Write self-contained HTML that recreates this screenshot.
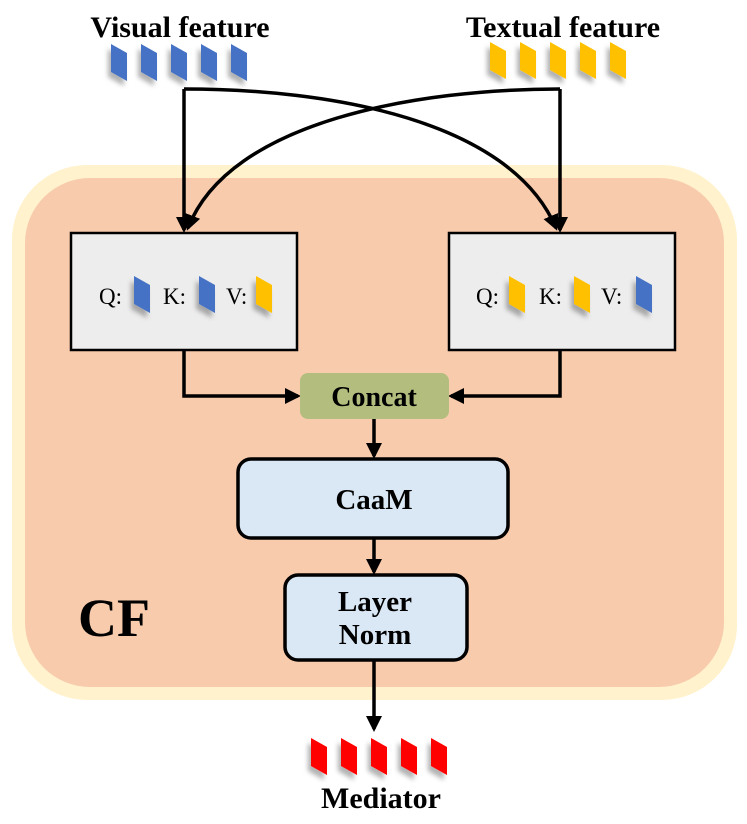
<!DOCTYPE html>
<html><head><meta charset="utf-8"><style>
html,body{margin:0;padding:0;background:#fff;}
svg{display:block;}
svg text{font-family:"Liberation Serif","DejaVu Serif",serif !important;}
</style></head><body>
<svg width="747" height="824" viewBox="0 0 747 824" xmlns="http://www.w3.org/2000/svg" font-family="Liberation Serif, DejaVu Serif, serif">
<defs>
<marker id="ah" markerWidth="16" markerHeight="16" refX="13" refY="8" orient="auto" markerUnits="userSpaceOnUse" viewBox="0 0 16 16">
<path d="M0,0 L16,8 L0,16 z" fill="#000"/>
</marker>
<filter id="sh" x="-50%" y="-50%" width="200%" height="200%"><feDropShadow dx="-3" dy="5" stdDeviation="2.5" flood-color="#000" flood-opacity="0.3"/></filter>
<path id="tk" d="M0,0 L16,9 L16,37 L0,28 z"/>
</defs>
<rect x="12" y="165" width="725" height="535" rx="75" fill="#fff2cc"/>
<rect x="25" y="178" width="699" height="509" rx="65" fill="#f8cbad"/>

<text x="180" y="37" font-size="30" font-weight="bold" text-anchor="middle">Visual feature</text>
<text x="563" y="37" font-size="30" font-weight="bold" text-anchor="middle">Textual feature</text>
<g fill="#4472c4" filter="url(#sh)">
<use href="#tk" x="111" y="44"/><use href="#tk" x="141" y="44"/><use href="#tk" x="171" y="44"/><use href="#tk" x="201" y="44"/><use href="#tk" x="231" y="44"/>
</g>
<g fill="#ffc000" filter="url(#sh)">
<use href="#tk" x="490" y="42"/><use href="#tk" x="520" y="42"/><use href="#tk" x="550" y="42"/><use href="#tk" x="580" y="42"/><use href="#tk" x="610" y="42"/>
</g>

<g fill="none" stroke="#000" stroke-width="3.5">
<path d="M184,89 L184,230" marker-end="url(#ah)"/>
<path d="M560,89 L560,230" marker-end="url(#ah)"/>
<path d="M184,89 C330,89 510,120 556,228" marker-end="url(#ah)"/>
<path d="M560,89 C420,89 230,120 188,228" marker-end="url(#ah)"/>
<path d="M184,350 L184,396 L298,396" marker-end="url(#ah)"/>
<path d="M560,350 L560,396 L451,396" marker-end="url(#ah)"/>
<path d="M374,418 L374,456" marker-end="url(#ah)"/>
<path d="M374,538 L374,572" marker-end="url(#ah)"/>
<path d="M374,660 L374,729" marker-end="url(#ah)"/>
</g>

<rect x="71" y="233" width="226" height="117" fill="#ededed" stroke="#000" stroke-width="2.5"/>
<rect x="449" y="233" width="226" height="117" fill="#ededed" stroke="#000" stroke-width="2.5"/>
<g font-size="23">
<text x="99" y="304">Q:</text><text x="163" y="304">K:</text><text x="226" y="304">V:</text>
<text x="476" y="304">Q:</text><text x="539" y="304">K:</text><text x="601" y="304">V:</text>
</g>
<g filter="url(#sh)">
<use href="#tk" x="134" y="276" fill="#4472c4"/><use href="#tk" x="199" y="276" fill="#4472c4"/><use href="#tk" x="256" y="276" fill="#ffc000"/>
<use href="#tk" x="509" y="276" fill="#ffc000"/><use href="#tk" x="574" y="276" fill="#ffc000"/><use href="#tk" x="636" y="276" fill="#4472c4"/>
</g>

<rect x="300" y="373" width="149" height="46" rx="8" fill="#b3bd7e"/>
<text x="374" y="406" font-size="28" font-weight="bold" text-anchor="middle">Concat</text>
<rect x="238" y="459" width="270" height="79" rx="13" fill="#dae8f5" stroke="#000" stroke-width="3.5"/>
<text x="374" y="509" font-size="29" font-weight="bold" text-anchor="middle">CaaM</text>
<rect x="285" y="575" width="182" height="85" rx="13" fill="#dae8f5" stroke="#000" stroke-width="3.5"/>
<text x="375" y="611" font-size="29" font-weight="bold" text-anchor="middle">Layer</text>
<text x="375" y="644" font-size="29" font-weight="bold" text-anchor="middle">Norm</text>

<text x="78" y="636" font-size="54" font-weight="bold">CF</text>

<g fill="#ff0000" filter="url(#sh)">
<use href="#tk" x="311" y="738"/><use href="#tk" x="341" y="738"/><use href="#tk" x="371" y="738"/><use href="#tk" x="401" y="738"/><use href="#tk" x="431" y="738"/>
</g>
<text x="381" y="808" font-size="30" font-weight="bold" text-anchor="middle">Mediator</text>
</svg>
</body></html>
